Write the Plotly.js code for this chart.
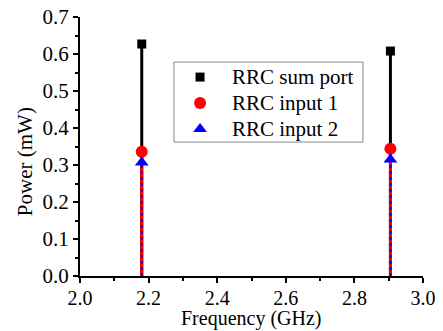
<!DOCTYPE html>
<html><head><meta charset="utf-8">
<script src="https://cdn.plot.ly/plotly-3.0.1.min.js"></script>
<style>body{margin:0;background:#fff}#c{width:443px;height:331px}</style>
</head><body><div id="c"></div>
<script>
// ---- data ----
const freqs = [2.18, 2.905];
const sumPort = [0.627, 0.608];
const input1 = [0.336, 0.344];
const input2 = [0.307, 0.315];
const names = ["RRC sum port", "RRC input 1", "RRC input 2"];
const xTitle = "Frequency (GHz)";
const yTitle = "Power (mW)";

// ---- styles ----
const F = "Liberation Serif";
const colors = ["#000000", "#ff0000", "#0000ff"];
const symbols = ["square", "circle", "triangle-up"];
const msizes = [9, 12, 12];

function stems(xs, ys) {
  const x = [], y = [];
  xs.forEach((v, i) => { x.push(v, v, null); y.push(0, ys[i], null); });
  return {x, y};
}
const series = [sumPort, input1, input2];
const traces = [];
const s0 = stems(freqs, sumPort), s1 = stems(freqs, input1), s2 = stems(freqs, input2);
traces.push({x: s0.x, y: s0.y, mode: "lines", line: {color: colors[0], width: 3}, showlegend: false, hoverinfo: "skip"});
traces.push({x: s1.x, y: s1.y, mode: "lines", line: {color: colors[1], width: 3}, showlegend: false, hoverinfo: "skip"});
traces.push({x: s2.x, y: s2.y, mode: "lines", line: {color: colors[2], width: 2, dash: "dot"}, showlegend: false, hoverinfo: "skip"});
series.forEach((s, i) => traces.push({x: freqs, y: s, mode: "markers", name: names[i], showlegend: false,
  marker: {symbol: symbols[i], color: colors[i], size: msizes[i]}}));

// ---- custom legend (box in paper coords, key markers on a hidden overlay axis) ----
const legX0 = 0.274, legX1 = 0.825, legY0 = 0.517, legY1 = 0.826;
const keyX = 0.350, textX = 0.437;
const rowY = [0.768, 0.668, 0.568];
names.forEach((n, i) => traces.push({x: [keyX], y: [rowY[i]], xaxis: "x2", yaxis: "y2", mode: "markers",
  showlegend: false, hoverinfo: "skip", marker: {symbol: symbols[i], color: colors[i], size: msizes[i]}}));

const annotations = names.map((n, i) => ({text: n, xref: "paper", yref: "paper", x: textX, y: rowY[i],
  xanchor: "left", yanchor: "middle", showarrow: false, font: {family: F, size: 21, color: "#000"}}));
annotations.push({text: xTitle, xref: "paper", yref: "paper", x: 0.501, y: -0.166, xanchor: "center", yanchor: "middle",
  showarrow: false, font: {family: F, size: 20}});
annotations.push({text: yTitle, xref: "paper", yref: "paper", x: -0.16, y: 0.44, xanchor: "center", yanchor: "middle",
  textangle: -90, showarrow: false, font: {family: F, size: 21}});

const layout = {
  width: 443, height: 331,
  margin: {l: 80, r: 20, t: 17, b: 55},
  paper_bgcolor: "#fff", plot_bgcolor: "#fff",
  font: {family: F, size: 21, color: "#000"},
  showlegend: false,
  xaxis: {range: [2.0, 3.0], dtick: 0.2, tick0: 2.0, tickformat: ".1f", showgrid: false, zeroline: false,
          showline: true, linecolor: "#000", linewidth: 2, ticks: "outside", ticklen: 5, tickwidth: 2, tickcolor: "#000",
          minor: {dtick: 0.1, ticks: "outside", ticklen: 3, tickwidth: 2, tickcolor: "#000"},
          ticklabelstandoff: -2, tickfont: {family: F, size: 20}},
  yaxis: {range: [0, 0.7], dtick: 0.1, tick0: 0, tickformat: ".1f", showgrid: false, zeroline: false,
          showline: true, linecolor: "#000", linewidth: 2, ticks: "outside", ticklen: 5, tickwidth: 2, tickcolor: "#000",
          minor: {dtick: 0.05, ticks: "outside", ticklen: 3, tickwidth: 2, tickcolor: "#000"},
          tickfont: {family: F, size: 21}},
  xaxis2: {range: [0, 1], overlaying: "x", visible: false, fixedrange: true},
  yaxis2: {range: [0, 1], overlaying: "y", visible: false, fixedrange: true},
  shapes: [{type: "rect", xref: "paper", yref: "paper", x0: legX0, x1: legX1, y0: legY0, y1: legY1,
            line: {color: "#888", width: 1}, fillcolor: "#fff", layer: "below"}],
  annotations: annotations
};
Plotly.newPlot("c", traces, layout, {displayModeBar: false, staticPlot: true});
</script></body></html>
